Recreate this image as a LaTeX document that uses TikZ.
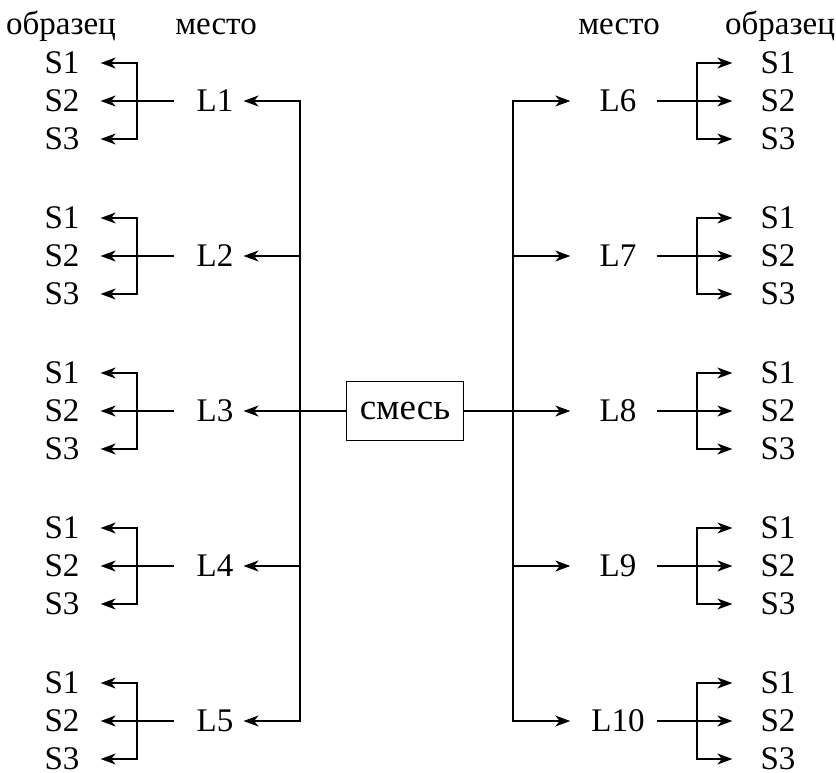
\documentclass[tikz,border=0pt]{standalone}
\usepackage{fontspec}
\setmainfont{Liberation Serif}
\usetikzlibrary{arrows.meta, positioning}
\tikzset{
  metka/.style={inner sep=0pt,font=\fontsize{33}{38}\selectfont},
  linia/.style={line width=1.2pt},
  strelka/.style={linia,-{Stealth[length=15pt,width=11pt,inset=4.5pt]}},
  vilka/.style={linia,{Stealth[length=15pt,width=11pt,inset=4.5pt]}-{Stealth[length=15pt,width=11pt,inset=4.5pt]}}
}

\begin{document}
\begin{tikzpicture}[x=1pt,y=-1pt]
\useasboundingbox (0,0) rectangle (836,773);

% zagolovki
\node[metka,anchor=base] (obrL) at (61,35) {образец};
\node[metka,anchor=base] (mestoL) at (216,35) {место};
\node[metka,anchor=base] (mestoR) at (619,35) {место};
\node[metka,anchor=base] (obrR) at (780,35) {образец};

% smes v centre
\node[metka,font=\fontsize{37}{42}\selectfont,draw,linia,minimum width=117pt,minimum height=59pt] (smes) at (405,411) {смесь};

% levaya storona: mesta L1--L5
\foreach \i/\y in {1/101,2/256,3/411,4/566,5/721}{
  \node[metka] (L\i) at (215,\y) {L\i};
  \node[metka] (L\i s1) at (62,\y-38) {S1};
  \node[metka] (L\i s2) at (62,\y) {S2};
  \node[metka] (L\i s3) at (62,\y+38) {S3};
  \coordinate (b\i) at (137,\y);
  \coordinate (t\i) at (300,\y);
  \draw[vilka,shorten <=21pt,shorten >=21pt] (L\i s1.east) -| (b\i) |- (L\i s3.east);
  \draw[strelka,shorten <=22pt,shorten >=21pt] (L\i.west) -- (L\i s2.east);
}
\draw[vilka,shorten <=10pt,shorten >=10pt] (L1.east) -| (t5) -- (L5.east);
\foreach \i in {2,3,4}{
  \draw[strelka,shorten >=10pt] (t\i) -- (L\i.east);
}
\draw[linia] (smes.west) -- (t3);

% pravaya storona: mesta L6--L10
\foreach \i/\y in {6/101,7/256,8/411,9/566,10/721}{
  \node[metka,minimum width=53pt] (L\i) at (618,\y) {L\i};
  \node[metka] (L\i s1) at (778,\y-38) {S1};
  \node[metka] (L\i s2) at (778,\y) {S2};
  \node[metka] (L\i s3) at (778,\y+38) {S3};
  \coordinate (b\i) at (697,\y);
  \coordinate (t\i) at (513,\y);
  \draw[vilka,shorten <=28pt,shorten >=28pt] (L\i s1.west) -| (b\i) |- (L\i s3.west);
  \draw[strelka,shorten <=12pt,shorten >=28pt] (L\i.east) -- (L\i s2.west);
}
\draw[vilka,shorten <=21pt,shorten >=21pt] (L6.west) -| (t10) -- (L10.west);
\foreach \i in {7,8,9}{
  \draw[strelka,shorten >=21pt] (t\i) -- (L\i.west);
}
\draw[linia] (smes.east) -- (t8);

\end{tikzpicture}
\end{document}
